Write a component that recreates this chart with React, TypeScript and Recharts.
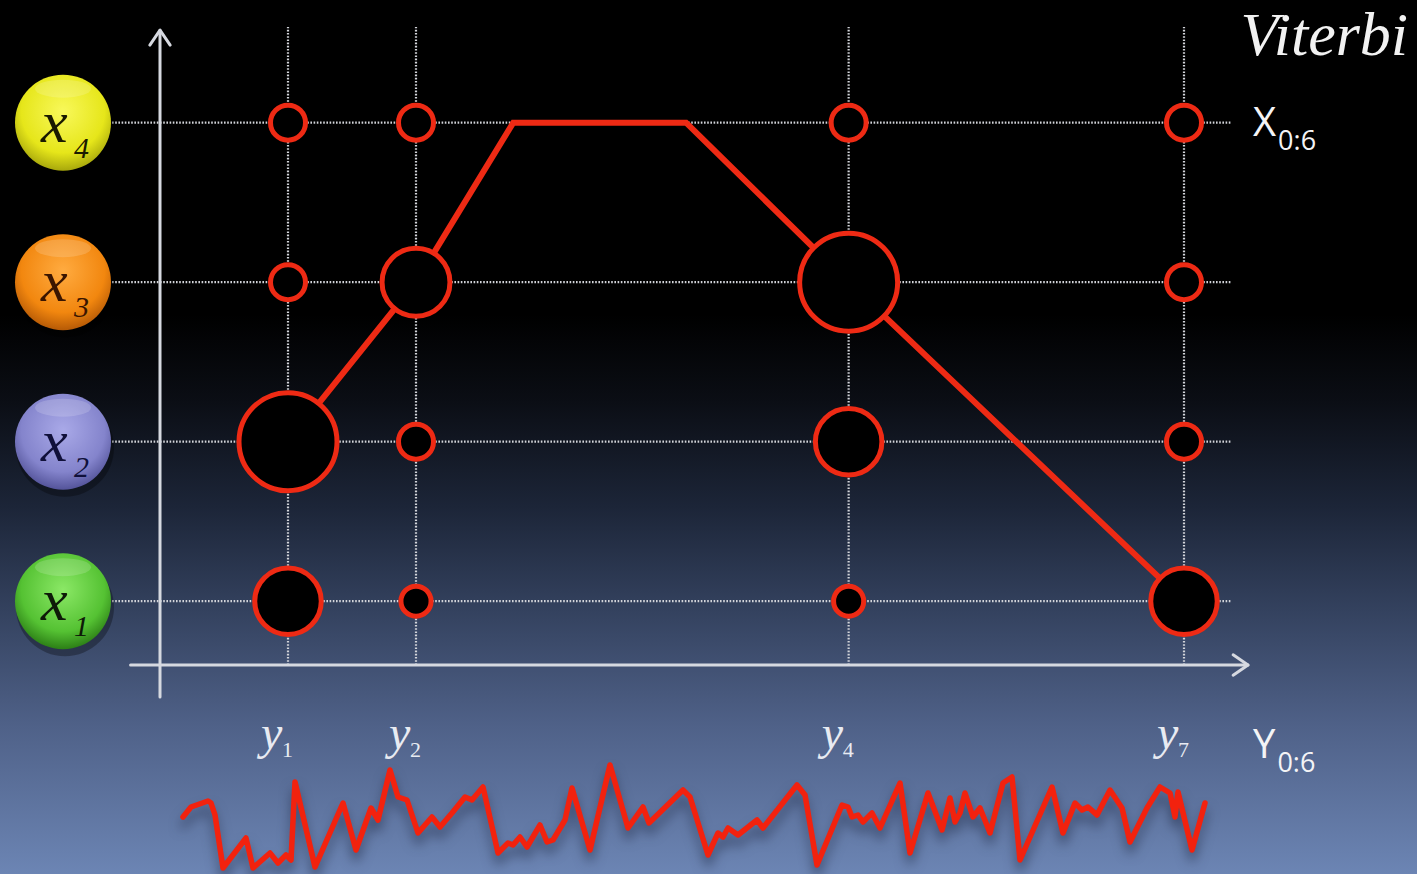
import { ComposedChart, LineChart, Line, Scatter, XAxis, YAxis, ReferenceLine, Label } from 'recharts'

// hidden states x1..x4 and the observations shown on the trellis
const stateIds = [1, 2, 3, 4]
const stateSubs = ['1', '2', '3', '4']
const obsPos = [1, 2, 5.38, 8]
const obsSubs = ['1', '2', '4', '7']

// weight of states x1..x4 at each observation (circle size)
const probY1 = [0.55, 1.0, 0.1, 0.1]
const probY2 = [0.03, 0.1, 0.57, 0.1]
const probY4 = [0.03, 0.55, 1.0, 0.1]
const probY7 = [0.55, 0.1, 0.1, 0.1]

// most likely state path
const pathT = [1, 2, 2.76, 4.11, 5.38, 8]
const pathS = [2, 3, 4, 4, 3, 1]

// observed signal (time, amplitude)
const waveT = [0, 8, 25, 28, 32, 40, 63, 70, 87, 95, 103, 108, 112, 132, 160, 173, 188, 195, 207, 215, 224, 235, 249, 257, 269, 282, 289, 300, 315, 325, 330, 337, 344, 357, 364, 370, 382, 389, 407, 427, 445, 460, 466, 500, 507, 525, 535, 540, 545, 555, 574, 580, 614, 622, 634, 659, 665, 669, 675, 680, 689, 697, 717, 727, 745, 759, 767, 772, 777, 782, 790, 797, 807, 820, 829, 837, 869, 880, 892, 899, 905, 914, 927, 939, 947, 964, 977, 987, 992, 995, 1009, 1022]
const waveA = [53, 63, 69, 67, 55, 2, 32, 2, 17, 7, 15, 10, 88, 3, 67, 20, 62, 50, 100, 73, 70, 37, 53, 43, 57, 73, 70, 83, 17, 27, 25, 33, 23, 45, 28, 30, 50, 82, 20, 105, 42, 63, 47, 80, 73, 15, 37, 33, 42, 35, 50, 42, 85, 75, 5, 65, 63, 53, 55, 48, 57, 42, 87, 17, 77, 40, 72, 48, 57, 77, 53, 62, 37, 87, 93, 10, 83, 37, 67, 60, 63, 55, 80, 62, 28, 62, 83, 77, 53, 78, 20, 67]

const RED = '#ee2a14'
const GRID = '#d2d4d9'
const BALLS = [
  { hi: '#8be866', base: '#55c233', edge: '#2c7f16', ink: '#0e1a08' },
  { hi: '#a9a9e8', base: '#8484cc', edge: '#54549a', ink: '#10103a' },
  { hi: '#ffab40', base: '#f2870f', edge: '#b65a06', ink: '#3a1500' },
  { hi: '#f8f85a', base: '#e6e61a', edge: '#a8a80c', ink: '#1a1a00' },
]

const probs = [probY1, probY2, probY4, probY7]
const cells = obsPos.flatMap((t, i) => probs[i].map((p, j) => ({ t, s: stateIds[j], p })))
const pathData = pathT.map((t, i) => ({ t, s: pathS[i] }))
const waveData = waveT.map((t, i) => ({ t, a: waveA[i] }))

function ArrowLine(props: any) {
  const { x1, y1, x2, y2 } = props
  const ang = Math.atan2(y2 - y1, x2 - x1)
  const L = 18
  const W = 0.6
  const ax = x2 - L * Math.cos(ang - W)
  const ay = y2 - L * Math.sin(ang - W)
  const bx = x2 - L * Math.cos(ang + W)
  const by = y2 - L * Math.sin(ang + W)
  return (
    <g stroke="#d6d9e0" strokeWidth={3} fill="none" strokeLinecap="round" strokeLinejoin="round">
      <line x1={x1} y1={y1} x2={x2} y2={y2} />
      <polyline points={`${ax},${ay} ${x2},${y2} ${bx},${by}`} />
    </g>
  )
}

function BallTick(props: any) {
  const { x, y, payload } = props
  const k = payload.value - 1
  const c = BALLS[k]
  const cx = x - 97
  const id = `ball-grad-${k}`
  return (
    <g>
      <defs>
        <radialGradient id={id} cx="50%" cy="38%" r="62%">
          <stop offset="0%" stopColor={c.hi} />
          <stop offset="70%" stopColor={c.base} />
          <stop offset="100%" stopColor={c.edge} />
        </radialGradient>
      </defs>
      <circle cx={cx + 2} cy={y + 6} r={49} fill="rgba(0,0,0,0.3)" />
      <circle cx={cx} cy={y} r={48} fill={`url(#${id})`} />
      <ellipse cx={cx} cy={y - 34} rx={28} ry={9} fill="rgba(255,255,255,0.16)" />
      <text x={cx - 22} y={y + 19} fontFamily="Liberation Serif" fontStyle="italic" fontSize={60} fill={c.ink}>x</text>
      <text x={cx + 11} y={y + 35} fontFamily="Liberation Serif" fontStyle="italic" fontSize={30} fill={c.ink}>{stateSubs[k]}</text>
    </g>
  )
}

function ObsTick(props: any) {
  const { x, y, index } = props
  return (
    <g fill="#e8ebf2">
      <text x={x - 27} y={y + 84} fontFamily="Liberation Serif" fontStyle="italic" fontSize={48}>y</text>
      <text x={x - 6} y={y + 92} fontFamily="Liberation Serif" fontSize={22}>{obsSubs[index]}</text>
    </g>
  )
}

function CellShape(props: any) {
  const { cx, cy, payload } = props
  const r = 14 + 35 * payload.p
  return <circle cx={cx} cy={cy} r={r} fill="#000" stroke={RED} strokeWidth={5} />
}

function SubLabel(letter: string, dx: number, dy: number) {
  return (props: any) => {
    const vb = props.viewBox || {}
    const x = vb.x + (vb.width || 0) + dx
    const y = vb.y + dy
    return (
      <text x={x} y={y} fill="#f4f4f6" fontFamily="Open Sans">
        <tspan fontSize={40}>{letter}</tspan>
        <tspan fontSize={27} dx={2} dy={14}>0:6</tspan>
      </text>
    )
  }
}

export default function App() {
  return (
    <div
      style={{
        position: 'absolute',
        left: 0,
        top: 0,
        width: 1417,
        height: 874,
        overflow: 'hidden',
        background:
          'linear-gradient(to bottom, #000 0%, #000 36%, #0b0e15 46%, #1c2538 58%, #34425f 70%, #4f6188 83%, #6c85b4 100%)',
      }}
    >
      <div
        style={{
          position: 'absolute',
          right: 9,
          top: 3,
          fontFamily: 'Liberation Serif',
          fontStyle: 'italic',
          fontSize: 62,
          lineHeight: 1,
          color: '#f2f2f2',
        }}
      >
        Viterbi
      </div>
      <div style={{ position: 'absolute', left: 0, top: 0, filter: 'drop-shadow(0px 9px 6px rgba(25,35,60,0.55))' }}>
        <LineChart width={1417} height={874} data={waveData} margin={{ top: 760, right: 212, bottom: 4, left: 183 }}>
          <XAxis type="number" dataKey="t" domain={[0, 1022]} hide />
          <YAxis type="number" domain={[0, 110]} hide />
          <Line
            dataKey="a"
            type="linear"
            stroke="#f2220e"
            strokeWidth={5.5}
            strokeLinejoin="round"
            strokeLinecap="round"
            dot={false}
            isAnimationActive={false}
          />
        </LineChart>
      </div>
      <div style={{ position: 'absolute', left: 0, top: 0 }}>
        <ComposedChart width={1417} height={874} margin={{ top: 27, right: 169, bottom: 109, left: 0 }}>
          <XAxis
            type="number"
            dataKey="t"
            domain={[0, 8.5]}
            ticks={obsPos}
            interval={0}
            height={100}
            axisLine={false}
            tickLine={false}
            tickSize={0}
            tickMargin={0}
            tick={<ObsTick />}
          >
            <Label content={SubLabel('Y', 5, 93)} />
          </XAxis>
          <YAxis
            type="number"
            dataKey="s"
            domain={[0.6, 4.6]}
            ticks={stateIds}
            interval={0}
            width={160}
            axisLine={false}
            tickLine={false}
            tickSize={0}
            tickMargin={0}
            tick={<BallTick />}
          />
          {obsPos.map((t) => (
            <ReferenceLine
              key={`v-${t}`}
              segment={[{ x: t, y: 0.6 }, { x: t, y: 4.6 }]}
              stroke={GRID}
              strokeWidth={2.2}
              strokeDasharray="1.6 1.6"
              ifOverflow="visible"
            />
          ))}
          {stateIds.map((s) => (
            <ReferenceLine
              key={`h-${s}`}
              segment={[{ x: -0.375, y: s }, { x: 8.375, y: s }]}
              stroke={GRID}
              strokeWidth={2.2}
              strokeDasharray="1.6 1.6"
              ifOverflow="visible"
            >
              {s === 4 && <Label content={SubLabel('X', 21, 13)} />}
            </ReferenceLine>
          ))}
          <ReferenceLine segment={[{ x: 0, y: 0.4 }, { x: 0, y: 4.58 }]} ifOverflow="visible" shape={ArrowLine} />
          <ReferenceLine segment={[{ x: -0.23, y: 0.6 }, { x: 8.5, y: 0.6 }]} ifOverflow="visible" shape={ArrowLine} />
          <Line
            data={pathData}
            dataKey="s"
            type="linear"
            stroke={RED}
            strokeWidth={6}
            dot={false}
            isAnimationActive={false}
          />
          <Scatter data={cells} dataKey="s" shape={CellShape} isAnimationActive={false} />
        </ComposedChart>
      </div>
    </div>
  )
}
